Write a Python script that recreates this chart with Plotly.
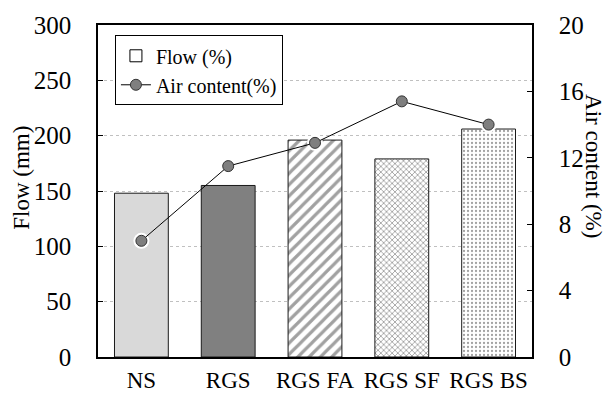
import plotly.graph_objects as go

# Mix designs and measured properties
categories = ["NS", "RGS", "RGS FA", "RGS SF", "RGS BS"]
flow_mm = [148, 155, 196, 179, 206]
air_content = [7.0, 11.5, 12.9, 15.4, 14.0]

flow_ticks = [0, 50, 100, 150, 200, 250, 300]
air_ticks = [0, 4, 8, 12, 16, 20]

FONT = "Liberation Serif, Times New Roman, serif"

fig = go.Figure()

# Flow bars, each mix with its own fill/pattern
fig.add_trace(go.Bar(
    x=categories, y=flow_mm, yaxis="y", showlegend=False,
    width=0.62,
    marker=dict(
        color=["#d9d9d9", "#808080", "white", "white", "white"],
        line=dict(color="#1a1a1a", width=1),
        pattern=dict(
            shape=["", "", "/", "x", "."],
            fgcolor=["#d9d9d9", "#808080", "#8c8c8c", "#8f8f8f", "#cfcfcf"],
            bgcolor=["#d9d9d9", "#808080", "white", "#e6e6e6", "white"],
            size=[8, 8, 8, 4, 4],
            solidity=[0.3, 0.3, 0.4, 0.4, 0.25],
        ),
    ),
))

# Legend entry for the flow series (plain outlined box)
fig.add_trace(go.Bar(
    x=[None], y=[None], name="Flow (%)", yaxis="y",
    marker=dict(color="white", line=dict(color="black", width=1)),
))

# White halo behind the air-content markers
fig.add_trace(go.Scatter(
    x=categories, y=air_content, yaxis="y2", mode="markers", showlegend=False,
    marker=dict(size=16, color="white"), hoverinfo="skip",
))

# Air content line
fig.add_trace(go.Scatter(
    x=categories, y=air_content, yaxis="y2", mode="lines+markers",
    name="Air content(%)",
    line=dict(color="black", width=1),
    marker=dict(size=11, color="#7f7f7f", line=dict(color="#333333", width=1)),
))

fig.update_layout(
    width=613, height=405,
    margin=dict(l=98, r=81, t=24, b=29),
    paper_bgcolor="white", plot_bgcolor="white",
    font=dict(family=FONT, color="black", size=22),
    barmode="overlay",
    showlegend=True,
    legend=dict(
        x=0.039, y=0.969, xanchor="left", yanchor="top",
        bgcolor="white", bordercolor="black", borderwidth=1,
        font=dict(family=FONT, size=20, color="black"),
        tracegroupgap=0, itemwidth=30,
    ),
    xaxis=dict(
        type="category", categoryorder="array", categoryarray=categories,
        showline=True, linecolor="black", linewidth=1.5, mirror=True,
        ticks="", tickfont=dict(family=FONT, size=23, color="black"),
        showgrid=False, ticklabelstandoff=2,
    ),
    yaxis=dict(
        range=[0, 300], tickvals=flow_ticks,
        showline=True, linecolor="black", linewidth=1.5,
        ticks="inside", ticklen=5, tickcolor="black",
        tickfont=dict(family=FONT, size=25, color="black"),
        ticklabelstandoff=20,
        showgrid=True, gridcolor="#c0c0c0", griddash="dot", gridwidth=1,
        zeroline=False,
    ),
    yaxis2=dict(
        range=[0, 20], tickvals=air_ticks, overlaying="y", side="right",
        showline=True, linecolor="black", linewidth=1.5,
        ticks="inside", ticklen=5, tickcolor="black",
        tickfont=dict(family=FONT, size=25, color="black"),
        ticklabelstandoff=20,
        showgrid=False, zeroline=False,
    ),
    annotations=[
        dict(text="Flow (mm)", xref="paper", yref="paper",
             x=-0.175, y=0.54, xanchor="center", yanchor="middle",
             textangle=-90, showarrow=False,
             font=dict(family=FONT, size=23, color="black")),
        dict(text="Air content (%)", xref="paper", yref="paper",
             x=1.143, y=0.575, xanchor="center", yanchor="middle",
             textangle=90, showarrow=False,
             font=dict(family=FONT, size=23, color="black")),
    ],
)

fig.write_html("out.html")
